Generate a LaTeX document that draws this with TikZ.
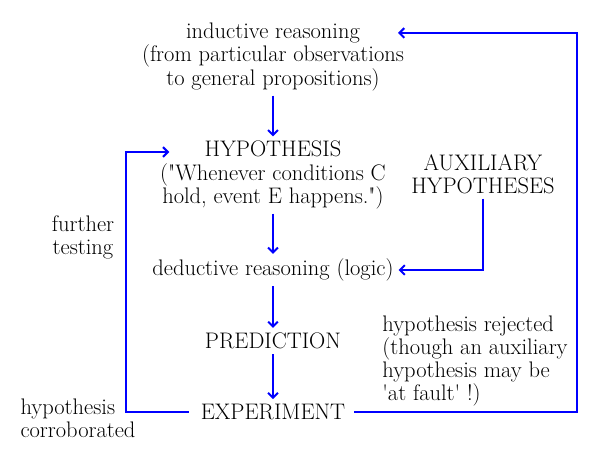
\documentclass[tikz,border=0pt]{standalone}
\usetikzlibrary{arrows.meta}
\tikzset{
    flowarrow/.style={-{Straight Barb[length=3.5pt,width=7pt]}, blue, line width=1.4pt},
    txt/.style={align=center, font=\fontsize{16}{16.4}\selectfont}
}

\begin{document}
\begin{tikzpicture}
    \useasboundingbox (0,0) rectangle (15,11.25);

    \node[txt] (induct) at (6.825,9.825) {inductive reasoning\\(from particular observations\\to general propositions)};
    \node[txt] (hyp) at (6.825,6.875) {HYPOTHESIS\\(\textquotedbl Whenever conditions C\\hold, event E happens.\textquotedbl)};
    \node[txt] (aux) at (12.075,6.9) {AUXILIARY\\HYPOTHESES};
    \node[txt] (deduct) at (6.825,4.5) {deductive reasoning (logic)};
    \node[txt] (pred) at (6.825,2.725) {PREDICTION};
    \node[txt] (exp) at (6.825,0.95) {EXPERIMENT};

    \node[txt] (further) at (2.075,5.325) {further\\testing};
    \node[txt, align=left] (corrob) at (1.95,0.8) {hypothesis\\corroborated};
    \node[txt, align=left] (reject) at (11.875,2.225) {hypothesis rejected\\(though an auxiliary\\hypothesis may be\\\textquotesingle at fault\textquotesingle\ !)};

    \coordinate (tip) at (9.95,10.425);

    \path [flowarrow] (induct) edge (hyp);
    \path [flowarrow] (hyp) edge (deduct);
    \path [flowarrow] (deduct) edge (pred);
    \path [flowarrow] (pred) edge (exp);
    \draw [flowarrow] (aux.south) |- (deduct.east);
    \draw [flowarrow] ([xshift=-5pt]exp.west) -- (3.15,0.95) |- ([shift={(0.35,0.575)}]hyp.west);
    \draw [flowarrow] ([xshift=3pt]exp.east) -- (14.425,0.95) |- (tip);
\end{tikzpicture}
\end{document}
